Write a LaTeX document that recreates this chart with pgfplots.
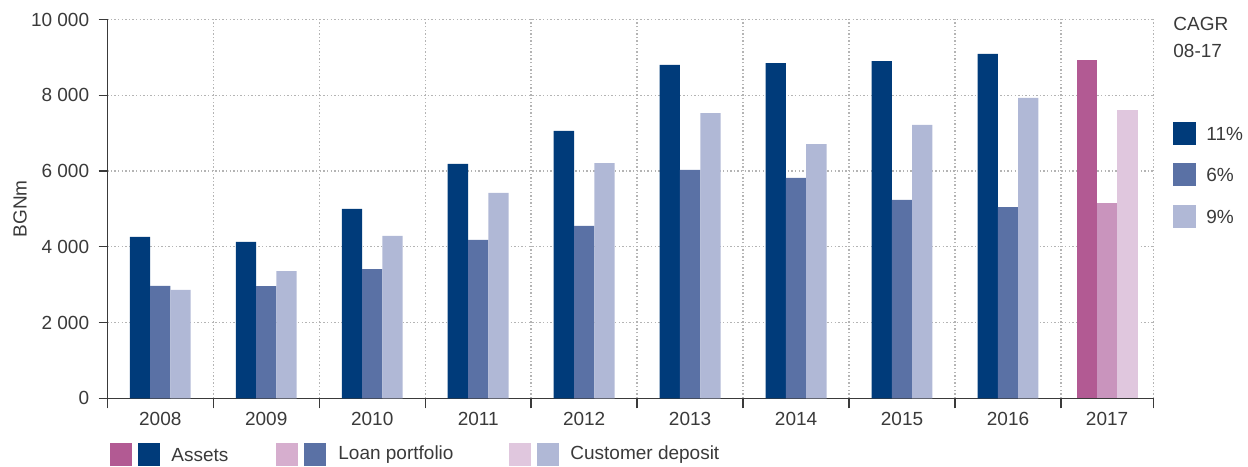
\documentclass[border=0pt]{standalone}
\usepackage{pgfplots}
\pgfplotsset{compat=1.18}
\usepackage{pgfplotstable}
\usepackage{fontspec}
\setmainfont{Liberation Sans}

\definecolor{navy}{HTML}{003B7A}
\definecolor{midblue}{HTML}{5A71A5}
\definecolor{lightblue}{HTML}{B0B8D6}
\definecolor{pinkA}{HTML}{B25A93}
\definecolor{pinkB}{HTML}{C994BD}
\definecolor{pinkBleg}{HTML}{D6AECE}
\definecolor{pinkC}{HTML}{E0C7DE}
\definecolor{txt}{HTML}{3A3A3A}
\definecolor{gridc}{HTML}{B4B4B4}

% category centres: 0.5 ... 8.5, last (narrower) category centred at 9.435
\pgfplotstableread{
pos   assets loan deposit
0.5   4260   2965 2860
1.5   4130   2960 3360
2.5   5000   3410 4290
3.5   6190   4180 5420
4.5   7060   4550 6210
5.5   8800   6030 7530
6.5   8850   5820 6710
7.5   8900   5240 7220
8.5   9090   5050 7930
}\maindata
\pgfplotstableread{
pos   assets loan deposit
9.435 8930   5160 7610
}\lastdata

\def\bw{0.1915}

\begin{document}
\begin{tikzpicture}[font=\fontsize{9.5pt}{11pt}\selectfont, text=txt]
\path[use as bounding box] (-53.65pt,-33.85pt) rectangle (570.35pt,199.15pt);
\begin{axis}[
    at={(0,0)}, anchor=south west,
    width=523pt, height=189.4pt, scale only axis,
    xmin=0, xmax=9.871, ymin=0, ymax=10000,
    axis x line=bottom, axis y line=left,
    axis line style={draw=txt, line width=0.7pt, -},
    tick align=outside,
    major tick length=4.35pt, minor tick length=5pt,
    xtick={0.5,1.5,...,8.5,9.435},
    xticklabels={2008,2009,2010,2011,2012,2013,2014,2015,2016,2017},
    minor xtick={0,1,...,9,9.871},
    major x tick style={draw=none},
    minor x tick style={draw=txt, line width=0.7pt},
    xticklabel style={yshift=1pt},
    ytick={0,2000,...,10000},
    y tick style={draw=txt, line width=0.7pt},
    scaled y ticks=false,
    /pgf/number format/assume math mode=true,
    /pgf/number format/1000 sep={\ },
    yticklabel style={xshift=-1.2pt},
    xmajorgrids=false, xminorgrids=true, ymajorgrids=true,
    major grid style={draw=gridc, line width=0.7pt, dash pattern=on 0.7pt off 1.1pt},
    minor grid style={draw=gridc, line width=0.7pt, dash pattern=on 0.7pt off 1.1pt},
    ylabel={BGNm},
    every axis y label/.style={at={(axis description cs:-0.0835,0.5)}, rotate=90, anchor=center},
]
\addplot[ybar, bar width=\bw, bar shift=0, fill=navy, draw=none]
    table[x expr=\thisrow{pos}-\bw, y=assets]{\maindata};
\addplot[ybar, bar width=\bw, bar shift=0, fill=midblue, draw=none]
    table[x=pos, y=loan]{\maindata};
\addplot[ybar, bar width=\bw, bar shift=0, fill=lightblue, draw=none]
    table[x expr=\thisrow{pos}+\bw, y=deposit]{\maindata};
\addplot[ybar, bar width=\bw, bar shift=0, fill=pinkA, draw=none]
    table[x expr=\thisrow{pos}-\bw, y=assets]{\lastdata};
\addplot[ybar, bar width=\bw, bar shift=0, fill=pinkB, draw=none]
    table[x=pos, y=loan]{\lastdata};
\addplot[ybar, bar width=\bw, bar shift=0, fill=pinkC, draw=none]
    table[x expr=\thisrow{pos}+\bw, y=deposit]{\lastdata};
\end{axis}
% legends, in reference pixel coordinates
\begin{scope}[xshift=-53.65pt, yshift=199.15pt, x=0.5pt, y=-0.5pt]
  \node[anchor=west, inner sep=0] at (1173,24) {CAGR};
  \node[anchor=west, inner sep=0] at (1173,51) {08-17};
  \fill[navy]       (1173,122) rectangle (1196,145);
  \fill[midblue]    (1173,163) rectangle (1196,186);
  \fill[lightblue]  (1173,205) rectangle (1196,228);
  \node[anchor=west, inner sep=0] at (1206,134) {11\%};
  \node[anchor=west, inner sep=0] at (1206,175) {6\%};
  \node[anchor=west, inner sep=0] at (1206,217) {9\%};
  \fill[pinkA]     (110,443) rectangle (132,466);
  \fill[navy]      (138,443) rectangle (160,466);
  \node[anchor=west, inner sep=0] at (171,455) {Assets};
  \fill[pinkBleg]  (276,443) rectangle (298,466);
  \fill[midblue]   (304,443) rectangle (326,466);
  \node[anchor=west, inner sep=0] at (338,455) {Loan portfolio};
  \fill[pinkC]     (509,443) rectangle (531,466);
  \fill[lightblue] (537,443) rectangle (559,466);
  \node[anchor=west, inner sep=0] at (570,455) {Customer deposit};
\end{scope}
\end{tikzpicture}
\end{document}
